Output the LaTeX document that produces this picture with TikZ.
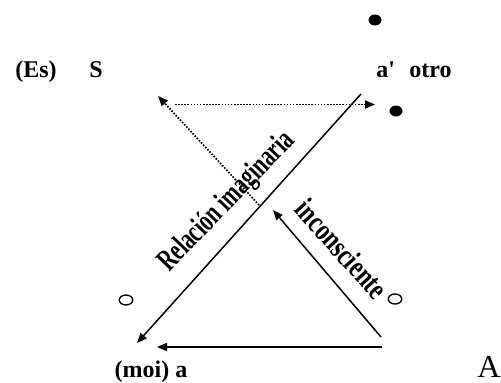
\documentclass[tikz,border=0pt]{standalone}
\usepackage{fontspec}
\setmainfont{Liberation Serif}
\usetikzlibrary{arrows.meta,shapes.geometric}
\tikzset{
  lbl/.style={anchor=base,inner sep=0pt,font=\fontsize{24}{26}\selectfont\bfseries},
  slant/.style={inner sep=0pt,font=\fontsize{31}{33}\selectfont\bfseries},
  arr/.style={line width=1.5pt,-{Triangle[length=10pt,width=8pt]}},
  dotarr/.style={line width=1.7pt,dash pattern=on 1.6pt off 1.5pt,-{Triangle[length=10pt,width=8pt]}},
  bigdot/.style={ellipse,fill,inner sep=0pt,minimum width=13pt,minimum height=11pt},
  ring/.style={ellipse,draw,line width=1.4pt,inner sep=0pt,minimum width=13.5pt,minimum height=10pt}
}
\begin{document}
\begin{tikzpicture}[x=1pt,y=-1pt]
  \useasboundingbox (0,0) rectangle (501,383);
  \node[lbl] (es) at (36,77) {(Es)};
  \node[lbl] (s) at (96,77) {S};
  \node[lbl] (otro) at (414,77) {a\textquotesingle\hspace{0.6em}otro};
  \node[lbl] (moi) at (151,377) {(moi) a};
  \node[anchor=base,inner sep=0pt,font=\fontsize{32}{34}\selectfont] (A) at (489,377) {A};
  \node[bigdot] (d1) at (375,20) {};
  \node[bigdot] (d2) at (396,111) {};
  \node[ring] (r1) at (126,300) {};
  \node[ring] (r2) at (395,299) {};
  \coordinate (aTop) at (361,94);
  \coordinate (moiTip) at (137,343);
  \coordinate (aBot) at (382,347);
  \coordinate (moiR) at (157,347);
  \coordinate (aUp) at (381,337);
  \coordinate (mid) at (273,210);
  \coordinate (cross) at (259,205);
  \coordinate (sTip) at (158,96);
  \coordinate (sR) at (175,104.5);
  \coordinate (aL) at (375,104.5);
  \draw[arr] (aTop) -- (moiTip);
  \draw[arr] (aBot) -- (moiR);
  \draw[arr] (aUp) -- (mid);
  \draw[dotarr] (cross) -- (sTip);
  \draw[dotarr] (sR) -- (aL);
  \node[slant,rotate=46,xscale=0.68] (rel) at (227,202) {Relación imaginaria};
  \node[slant,rotate=-48,xscale=0.75] (inc) at (342,249) {inconsciente};
\end{tikzpicture}
\end{document}
